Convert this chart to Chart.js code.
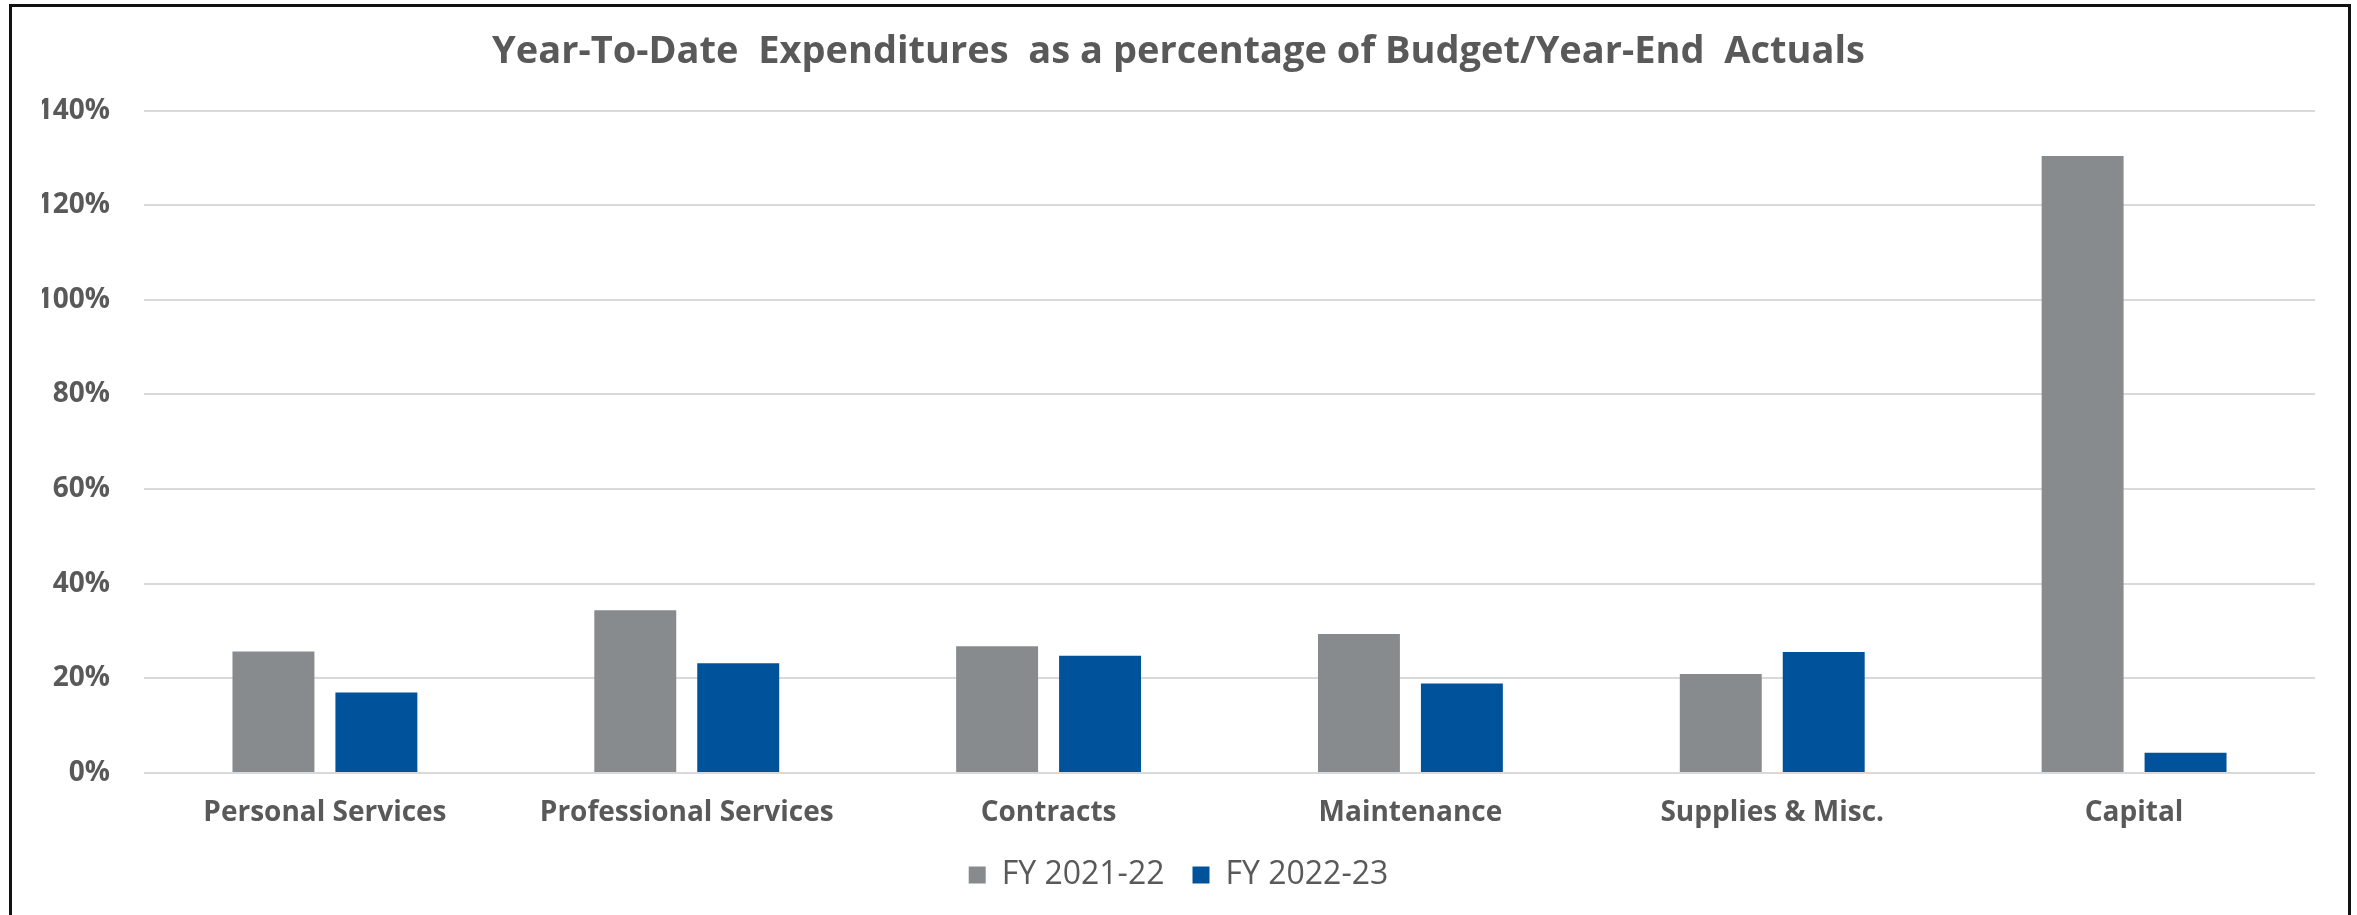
<!DOCTYPE html>
<html>
<head>
<meta charset="utf-8">
<script src="https://cdn.jsdelivr.net/npm/chart.js@4/dist/chart.umd.min.js"></script>
<style>
  html, body { margin: 0; padding: 0; background: #ffffff; overflow: hidden; }
  #wrap { position: relative; width: 2357px; height: 915px; }
  #frame {
    position: absolute; left: 9px; top: 4px; width: 2336px; height: 940px;
    border: 3px solid #111111; pointer-events: none;
  }
  canvas { position: absolute; left: 0; top: 0; }
</style>
</head>
<body>
<div id="wrap">
  <canvas id="chart" width="2357" height="915"></canvas>
  <div id="frame"></div>
</div>
<script>
// Expense categories along the x axis
const categories = [
  'Personal Services',
  'Professional Services',
  'Contracts',
  'Maintenance',
  'Supplies & Misc.',
  'Capital'
];

// Year-to-date spending as a percent of budget / year-end actuals
const fy2122 = [25.7, 34.4, 26.8, 29.4, 20.9, 130.4];
const fy2223 = [17.0, 23.2, 24.8, 18.9, 25.6, 4.3];

const seriesNames = ['FY 2021-22', 'FY 2022-23'];

// Percent axis
const yTickMin = 0;
const yTickMax = 140;
const yTickStep = 20;

const textGray = '#595959';
const gridGray = '#d9d9d9';
const fontFamily = '"Open Sans", "DejaVu Sans", sans-serif';

new Chart(document.getElementById('chart'), {
  type: 'bar',
  data: {
    labels: categories,
    datasets: [
      {
        label: seriesNames[0],
        data: fy2122,
        backgroundColor: '#888b8d',
        categoryPercentage: 0.569,
        barPercentage: 0.796
      },
      {
        label: seriesNames[1],
        data: fy2223,
        backgroundColor: '#00529b',
        categoryPercentage: 0.569,
        barPercentage: 0.796
      }
    ]
  },
  options: {
    responsive: false,
    animation: false,
    layout: { padding: { left: 42, right: 42, top: 0, bottom: 14 } },
    plugins: {
      title: {
        display: true,
        text: 'Year-To-Date  Expenditures  as a percentage of Budget/Year-End  Actuals',
        color: textGray,
        font: { family: fontFamily, size: 38, weight: 'bold' },
        padding: { top: 29, bottom: 36 }
      },
      legend: {
        display: true,
        position: 'bottom',
        labels: {
          color: textGray,
          font: { family: fontFamily, size: 32 },
          boxWidth: 17,
          boxHeight: 17,
          padding: 28
        }
      },
      tooltip: { enabled: false }
    },
    scales: {
      x: {
        grid: { display: false, drawTicks: false },
        border: { display: false },
        ticks: {
          color: textGray,
          font: { family: fontFamily, size: 28, weight: 'bold' },
          padding: 23,
          maxRotation: 0,
          autoSkip: false
        },
        afterFit(scale) { scale.height = 58; }
      },
      y: {
        min: yTickMin,
        max: yTickMax,
        border: { display: false },
        grid: { color: gridGray, lineWidth: 2, drawTicks: false },
        ticks: {
          stepSize: yTickStep,
          color: textGray,
          font: { family: fontFamily, size: 28, weight: 'bold' },
          padding: 34,
          callback: (v) => v + '%'
        },
        afterFit(scale) { scale.width = 102; }
      }
    }
  }
});
</script>
</body>
</html>
